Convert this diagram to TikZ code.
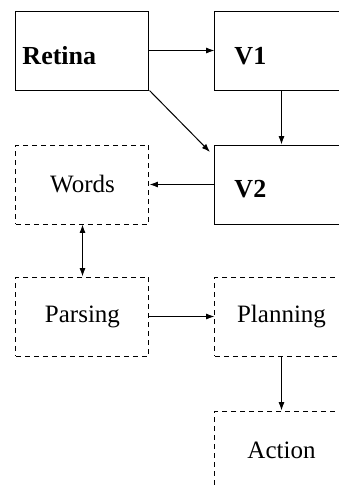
\documentclass[tikz,border=0pt]{standalone}
\usepackage{fontspec}
\setmainfont{Liberation Serif}
\usetikzlibrary{arrows.meta}
\begin{document}
\begin{tikzpicture}[x=0.5pt, y=-0.5pt, line width=0.5pt, font=\fontsize{12.5}{15}\selectfont,
  >={Latex[length=4.2pt,width=3pt]},
  area/.style={draw, minimum width=66.5pt, minimum height=39.5pt, inner sep=0pt},
  stage/.style={area, dash pattern=on 2.5pt off 2pt},
  tag/.style={font=\fontsize{13}{15}\selectfont\bfseries, anchor=base west, inner sep=0pt}]
\useasboundingbox (0,0) rectangle (339,489);
\clip (0,0) rectangle (339,489);
\node[area] (retina) at (82.5,50.5){};
\node[tag] at (22,64){Retina};
\node[area] (v1) at (281.5,50.5){};
\node[tag] at (234,64){V1};
\node[area] (v2) at (281.5,184.5){};
\node[tag] at (234,197){V2};
\coordinate (v2in) at (210,152);
\node[stage] (words) at (82.5,184.5){Words};
\node[stage] (parsing) at (82.5,316.5){Parsing};
\node[stage] (planning) at (281.5,316.5){Planning};
\node[stage] (action) at (281.5,450.5){Action};
\draw[->](retina) -- (v1);
\draw[->](v1) -- (v2);
\draw[->](retina.south east) -- (v2in);
\draw[->](v2) -- (words);
\draw[<->](words) -- (parsing);
\draw[->](parsing) -- (planning);
\draw[->](planning) -- (action);
\end{tikzpicture}
\end{document}
